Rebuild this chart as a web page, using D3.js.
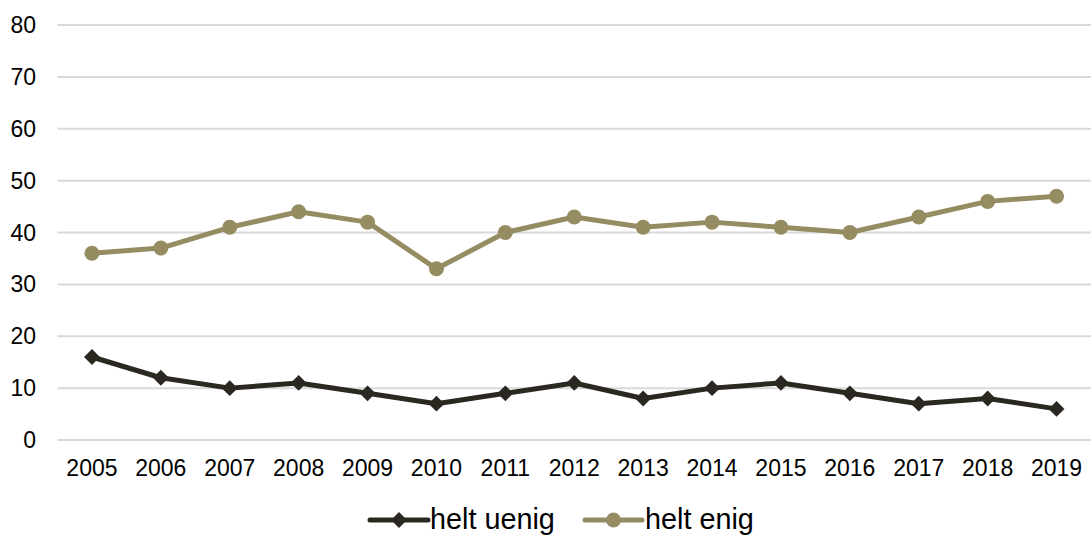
<!DOCTYPE html>
<html>
<head>
<meta charset="utf-8">
<script src="https://cdn.jsdelivr.net/npm/d3@7"></script>
<style>
  html, body { margin: 0; padding: 0; background: #fff; }
  svg { display: block; font-family: "Liberation Sans", Arial, sans-serif; }
</style>
</head>
<body>
<svg id="chart" width="1091" height="536"></svg>
<script>
// Survey years and shares (%) for the two answer categories
const years = ["2005","2006","2007","2008","2009","2010","2011","2012","2013","2014","2015","2016","2017","2018","2019"];
const heltUenig = [16, 12, 10, 11, 9, 7, 9, 11, 8, 10, 11, 9, 7, 8, 6];
const heltEnig  = [36, 37, 41, 44, 42, 33, 40, 43, 41, 42, 41, 40, 43, 46, 47];
const yTicks = [0, 10, 20, 30, 40, 50, 60, 70, 80];
const seriesNames = ["helt uenig", "helt enig"];

const svg = d3.select("#chart");
const plotLeft = 57.5, plotRight = 1091, plotTop = 25, plotBottom = 440;

const x = d3.scaleBand().domain(years).range([plotLeft, plotRight]);
const y = d3.scaleLinear().domain([0, 80]).range([plotBottom, plotTop]);
const cx = d => x(d) + x.bandwidth() / 2;

// Horizontal gridlines
svg.append("g").selectAll("line").data(yTicks).join("line")
  .attr("x1", plotLeft).attr("x2", plotRight)
  .attr("y1", d => y(d)).attr("y2", d => y(d))
  .attr("stroke", "#d9d9d9").attr("stroke-width", 2);

// Y axis labels
svg.append("g").selectAll("text").data(yTicks).join("text")
  .attr("x", 36).attr("y", d => y(d))
  .attr("text-anchor", "end").attr("dominant-baseline", "central")
  .attr("font-size", 23).attr("fill", "#000")
  .text(d => d);

// X axis labels
svg.append("g").selectAll("text").data(years).join("text")
  .attr("x", d => cx(d)).attr("y", 468)
  .attr("text-anchor", "middle").attr("dominant-baseline", "central")
  .attr("font-size", 23).attr("fill", "#000")
  .text(d => d);

const series = [
  { name: seriesNames[0], values: heltUenig, color: "#2b2822", marker: "diamond" },
  { name: seriesNames[1], values: heltEnig,  color: "#968c62", marker: "circle" }
];

const line = d3.line().x((d, i) => cx(years[i])).y(d => y(d));
const diamond = d3.symbol().type(d3.symbolDiamond2).size(160);

function drawMarker(g, type, color, px, py) {
  if (type === "circle") {
    g.append("circle").attr("cx", px).attr("cy", py).attr("r", 7.5).attr("fill", color);
  } else {
    g.append("path").attr("d", diamond()).attr("transform", `translate(${px},${py})`).attr("fill", color);
  }
}

series.forEach(s => {
  const g = svg.append("g");
  g.append("path").datum(s.values).attr("d", line)
    .attr("fill", "none").attr("stroke", s.color).attr("stroke-width", 5)
    .attr("stroke-linejoin", "round");
  s.values.forEach((v, i) => drawMarker(g, s.marker, s.color, cx(years[i]), y(v)));
});

// Legend
const legendY = 520;
const legendItems = [
  { s: series[0], x0: 370, x1: 428, tx: 430 },
  { s: series[1], x0: 585, x1: 642, tx: 645 }
];
legendItems.forEach(it => {
  const g = svg.append("g");
  g.append("line").attr("x1", it.x0).attr("x2", it.x1).attr("y1", legendY).attr("y2", legendY)
    .attr("stroke", it.s.color).attr("stroke-width", 5).attr("stroke-linecap", "round");
  drawMarker(g, it.s.marker, it.s.color, (it.x0 + it.x1) / 2, legendY);
  g.append("text").attr("x", it.tx).attr("y", legendY - 1).attr("dominant-baseline", "central")
    .attr("font-size", 28.8).attr("fill", "#000").text(it.s.name);
});
</script>
</body>
</html>
